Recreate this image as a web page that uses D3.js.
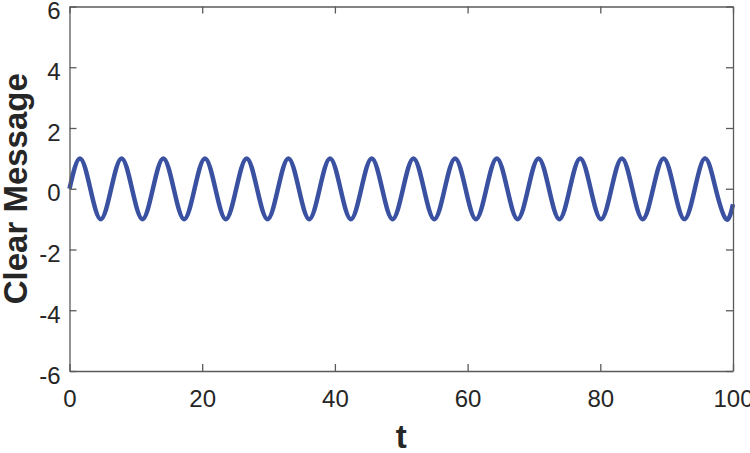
<!DOCTYPE html>
<html>
<head>
<meta charset="utf-8">
<script src="https://cdn.jsdelivr.net/npm/d3@7"></script>
<style>
  body { margin: 0; background: #fff; }
  svg { display: block; }
  .tick text { font-family: "Liberation Sans", Arial, sans-serif; font-size: 24px; fill: #262626; }
  .axisLabel { font-family: "Liberation Sans", Arial, sans-serif; font-weight: bold; font-size: 33px; fill: #262626; }
</style>
</head>
<body>
<div id="chart"></div>
<script>
// values: extrema and zero crossings of the wave
const tValues = [0, 1.57, 3.14, 4.71, 6.28, 7.85, 9.42, 11.00, 12.57, 14.14,
  15.71, 17.28, 18.85, 20.42, 21.99, 23.56, 25.13, 26.70, 28.27, 29.85,
  31.42, 32.99, 34.56, 36.13, 37.70, 39.27, 40.84, 42.41, 43.98, 45.55,
  47.12, 48.69, 50.27, 51.84, 53.41, 54.98, 56.55, 58.12, 59.69, 61.26,
  62.83, 64.40, 65.97, 67.54, 69.12, 70.69, 72.26, 73.83, 75.40, 76.97,
  78.54, 80.11, 81.68, 83.25, 84.82, 86.39, 87.96, 89.54, 91.11, 92.68,
  94.25, 95.82, 97.39, 98.96, 100];
const messageValues = [0, 1, 0, -1, 0, 1, 0, -1, 0, 1,
  0, -1, 0, 1, 0, -1, 0, 1, 0, -1,
  0, 1, 0, -1, 0, 1, 0, -1, 0, 1,
  0, -1, 0, 1, 0, -1, 0, 1, 0, -1,
  0, 1, 0, -1, 0, 1, 0, -1, 0, 1,
  0, -1, 0, 1, 0, -1, 0, 1, 0, -1,
  0, 1, 0, -1, -0.51];
const xTicks = [0, 20, 40, 60, 80, 100];
const yTicks = [-6, -4, -2, 0, 2, 4, 6];

const width = 750, height = 453;
const margin = {top: 6.5, left: 69.5, right: 17, bottom: 82};

const svg = d3.select("#chart").append("svg")
    .attr("width", width)
    .attr("height", height);

const xScale = d3.scaleLinear()
    .domain([0, 100])
    .range([margin.left, width - margin.right]);

const yScale = d3.scaleLinear()
    .domain([-6, 6])
    .range([height - margin.bottom, margin.top]);

const data = tValues.map((t, i) => ({t: t, v: messageValues[i]}));

const line = d3.line()
    .x(d => xScale(d.t))
    .y(d => yScale(d.v))
    .curve(d3.curveNatural);

svg.append("path")
    .datum(data)
    .attr("fill", "none")
    .attr("stroke", "#3a51a2")
    .attr("stroke-width", 4.5)
    .attr("stroke-linejoin", "round")
    .attr("d", line);

/* axes, ticks pointing inward, mirrored on top and right */
const axisColor = "#5a5a5a";
const tickLen = 7;
const plainFormat = d => String(d);   // hyphen minus like the reference

const xAxis = svg.append("g")
    .attr("transform", `translate(0,${yScale(-6)})`)
    .call(d3.axisBottom(xScale).tickValues(xTicks).tickFormat(plainFormat)
        .tickSizeInner(-tickLen).tickSizeOuter(0).tickPadding(19));

const xTop = svg.append("g")
    .attr("transform", `translate(0,${yScale(6)})`)
    .call(d3.axisTop(xScale).tickValues(xTicks).tickSizeInner(-tickLen).tickSizeOuter(0).tickFormat(""));

const yAxis = svg.append("g")
    .attr("transform", `translate(${xScale(0)},0)`)
    .call(d3.axisLeft(yScale).tickValues(yTicks).tickFormat(plainFormat)
        .tickSizeInner(-tickLen).tickSizeOuter(0).tickPadding(9));

yAxis.selectAll(".tick text").attr("dy", "0.5em");

const yRight = svg.append("g")
    .attr("transform", `translate(${xScale(100)},0)`)
    .call(d3.axisRight(yScale).tickValues(yTicks).tickSizeInner(-tickLen).tickSizeOuter(0).tickFormat(""));

svg.selectAll(".domain, .tick line")
    .attr("stroke", axisColor)
    .attr("stroke-width", 1.3);

svg.append("text")
    .attr("class", "axisLabel")
    .attr("x", (xScale(0) + xScale(100)) / 2)
    .attr("y", 448)
    .attr("text-anchor", "middle")
    .text("t");

svg.append("text")
    .attr("class", "axisLabel")
    .attr("transform", `translate(27,${(yScale(-6) + yScale(6)) / 2}) rotate(-90)`)
    .attr("text-anchor", "middle")
    .text("Clear Message");
</script>
</body>
</html>
